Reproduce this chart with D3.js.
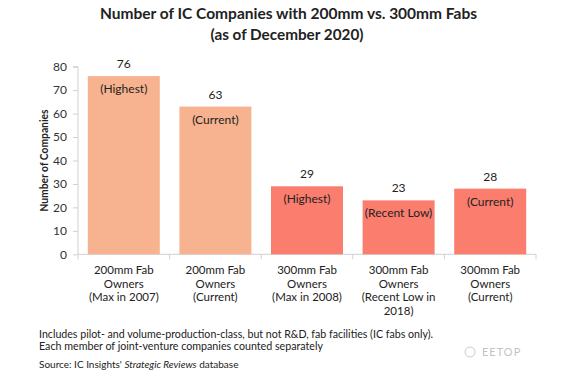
<!DOCTYPE html>
<html><head><meta charset="utf-8">
<script src="https://cdn.jsdelivr.net/npm/d3@7"></script>
<style>body{margin:0;background:#fff;} svg{display:block;font-family:Lato, "Open Sans", sans-serif;}</style>
</head><body>
<svg id="c" width="573" height="383"></svg>
<script>
const categories = [
  ["200mm Fab","Owners","(Max in 2007)"],
  ["200mm Fab","Owners","(Current)"],
  ["300mm Fab","Owners","(Max in 2008)"],
  ["300mm Fab","Owners","(Recent Low in","2018)"],
  ["300mm Fab","Owners","(Current)"]
];
const values = [76, 63, 29, 23, 28];
const notes = ["(Highest)", "(Current)", "(Highest)", "(Recent Low)", "(Current)"];
const waferSize = ["200mm","200mm","300mm","300mm","300mm"];
const yTicks = [0,10,20,30,40,50,60,70,80];

(function(){
const svg = d3.select("#c");
const pL = 78, pR = 536, pT = 66.7, pB = 254.3;
const x = d3.scaleBand().domain(d3.range(values.length)).range([pL, pR]).paddingInner(0.214).paddingOuter(0.107);
const y = d3.scaleLinear().domain([0, 80]).range([pB, pT]);
const color = d3.scaleOrdinal().domain(["200mm","300mm"]).range(["#F7B38F","#FA7D6E"]);

// title
svg.append("text").attr("x", 288.5).attr("y", 19).attr("text-anchor","middle")
  .attr("font-size", 16).attr("font-weight","bold").attr("fill","#222")
  .attr("textLength", 377).attr("lengthAdjust","spacingAndGlyphs")
  .text("Number of IC Companies with 200mm vs. 300mm Fabs");
svg.append("text").attr("x", 287).attr("y", 40).attr("text-anchor","middle")
  .attr("font-size", 16).attr("font-weight","bold").attr("fill","#222")
  .attr("textLength", 153).attr("lengthAdjust","spacingAndGlyphs")
  .text("(as of December 2020)");

// y axis
const yAxis = d3.axisLeft(y).tickValues(yTicks).tickSize(5).tickPadding(6);
const gy = svg.append("g").attr("transform", `translate(${pL},0)`).call(yAxis);
gy.select(".domain").attr("stroke","#d0d0d0").attr("d", `M-5,${pT}H0V${pB}`);
gy.selectAll(".tick line").attr("stroke","#d0d0d0");
gy.selectAll(".tick text").attr("font-size", 12).attr("fill","#333").attr("font-family","Lato, sans-serif");

// x axis
const gx = svg.append("g").attr("transform", `translate(0,${pB})`);
gx.append("line").attr("x1", pL).attr("x2", pR).attr("stroke","#d0d0d0");
const bounds = d3.range(values.length + 1).map(i => pL + i * x.step());
gx.selectAll("line.tk").data(bounds).join("line").attr("class","tk")
  .attr("x1", d => d).attr("x2", d => d).attr("y1", 0).attr("y2", 5).attr("stroke","#d0d0d0");

// y title
svg.append("text").attr("transform", `translate(48,${(pT+pB)/2}) rotate(-90)`)
  .attr("text-anchor","middle").attr("font-size", 10.5).attr("font-weight","bold").attr("fill","#222")
  .attr("textLength", 102).attr("lengthAdjust","spacingAndGlyphs")
  .text("Number of Companies");

// bars
svg.selectAll("rect.bar").data(values).join("rect").attr("class","bar")
  .attr("x", (d,i) => x(i)).attr("width", x.bandwidth())
  .attr("y", d => y(d)).attr("height", d => y(0) - y(d))
  .attr("fill", (d,i) => color(waferSize[i]));

// value labels
svg.selectAll("text.val").data(values).join("text").attr("class","val")
  .attr("x", (d,i) => x(i) + x.bandwidth()/2).attr("y", d => y(d) - 8)
  .attr("text-anchor","middle").attr("font-size", 12).attr("fill","#222").text(d => d);

// note labels
svg.selectAll("text.note").data(values).join("text").attr("class","note")
  .attr("x", (d,i) => x(i) + x.bandwidth()/2).attr("y", d => y(d) + 17)
  .attr("text-anchor","middle").attr("font-size", 12).attr("fill","#222").text((d,i) => notes[i]);

// category labels
categories.forEach((lines, i) => {
  const t = svg.append("text").attr("text-anchor","middle").attr("font-size", 11.5).attr("fill","#222");
  lines.forEach((ln, j) => {
    t.append("tspan").attr("x", x(i) + x.bandwidth()/2).attr("y", 274 + j * 13.5).text(ln);
  });
});

// footnotes
svg.append("text").attr("x", 39).attr("y", 337.5).attr("font-size", 10.5).attr("fill","#222")
  .attr("textLength", 394).attr("lengthAdjust","spacingAndGlyphs")
  .text("Includes pilot- and volume-production-class, but not R&D, fab facilities (IC fabs only).");
svg.append("text").attr("x", 39).attr("y", 350).attr("font-size", 10.5).attr("fill","#222")
  .attr("textLength", 284).attr("lengthAdjust","spacingAndGlyphs")
  .text("Each member of joint-venture companies counted separately");
const src = svg.append("text").attr("x", 39).attr("y", 368).attr("font-size", 10).attr("fill","#222");
src.append("tspan").text("Source:  IC Insights' ");
src.append("tspan").attr("font-style","italic").text("Strategic Reviews");
src.append("tspan").text(" database");

// watermark
const wm = svg.append("g").attr("transform","translate(470,356)").attr("opacity",0.5);
wm.append("circle").attr("cx",0).attr("cy",-4).attr("r",5).attr("fill","none").attr("stroke","#999").attr("stroke-width",1);
wm.append("text").attr("x", 12).attr("y", 0).attr("font-size", 11).attr("fill","#888").attr("letter-spacing",1).text("EETOP");
})();
</script>
</body></html>
